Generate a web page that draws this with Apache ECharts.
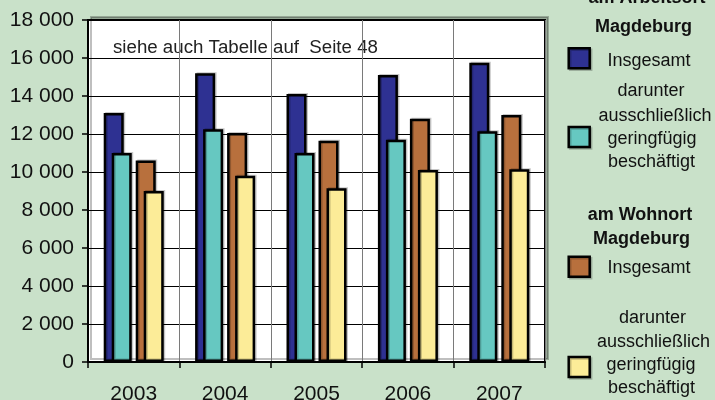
<!DOCTYPE html>
<html>
<head>
<meta charset="utf-8">
<script src="https://cdn.jsdelivr.net/npm/echarts@6/dist/echarts.min.js"></script>
<style>
  html, body { margin: 0; padding: 0; background: #c9e1c9; }
  #chart { width: 715px; height: 400px; }
</style>
</head>
<body>
<div id="chart"></div>
<script>
// Jahre
const years = ['2003', '2004', '2005', '2006', '2007']
// am Arbeitsort Magdeburg
const arbeitsortGesamt = [13100, 15200, 14100, 15100, 15750]
const arbeitsortGering = [11000, 12250, 11000, 11700, 12150]
// am Wohnort Magdeburg
const wohnortGesamt = [10600, 12050, 11650, 12800, 13000]
const wohnortGering = [9000, 9800, 9150, 10100, 10150]
// y ticks
const yMin = 0
const yMax = 18000
const yStep = 2000

const colors = {
  blue: '#2e3192',
  teal: '#66c8c1',
  brown: '#b8703d',
  yellow: '#fcec98'
}
const FONT = '"Liberation Sans", Arial, sans-serif'

function barSeries(name, data, color) {
  return {
    name: name,
    type: 'bar',
    data: data,
    barWidth: 20,
    barGap: '-60%',
    itemStyle: {
      color: color,
      borderColor: '#000',
      borderWidth: 2.5,
      shadowColor: 'rgba(0,0,0,0.22)',
      shadowOffsetX: 1.5,
      shadowOffsetY: -1
    },
    animation: false
  }
}

function label(text, x, y, bold) {
  return {
    type: 'text',
    style: {
      text: text,
      x: x,
      y: y,
      textAlign: 'center',
      textVerticalAlign: 'middle',
      font: (bold ? 'bold ' : '') + '18px ' + FONT,
      fill: '#111'
    }
  }
}

function swatch(y, color) {
  return {
    type: 'rect',
    shape: { x: 568.7, y: y + 1, width: 21, height: 20 },
    style: { fill: color, stroke: '#000', lineWidth: 2.5, shadowColor: 'rgba(0,0,0,0.22)', shadowOffsetX: 1.5, shadowOffsetY: 1.5 }
  }
}

const chart = echarts.init(document.getElementById('chart'), null, { renderer: 'canvas' })

chart.setOption({
  backgroundColor: '#c9e1c9',
  animation: false,
  grid: {
    left: 88,
    right: 170,
    top: 20,
    bottom: 38,
    outerBoundsMode: 'none',
    containLabel: false,
    show: true,
    backgroundColor: '#fff',
    borderColor: '#000',
    borderWidth: 2,
    shadowColor: 'rgba(0,0,0,0.25)',
    shadowOffsetX: 3,
    shadowOffsetY: -3
  },
  xAxis: {
    type: 'category',
    data: years,
    axisLine: { lineStyle: { color: '#000', width: 2 } },
    axisTick: { show: true, length: 6, lineStyle: { color: '#000', width: 1.5 } },
    axisLabel: { color: '#111', fontSize: 21, fontFamily: FONT, margin: 22 },
    splitLine: { show: true, lineStyle: { color: '#7a7a7a', width: 1 } }
  },
  yAxis: {
    type: 'value',
    min: yMin,
    max: yMax,
    interval: yStep,
    axisLine: { show: true, lineStyle: { color: '#000', width: 2 } },
    axisTick: { show: true, length: 6, lineStyle: { color: '#000', width: 1.5 } },
    axisLabel: {
      color: '#111',
      fontSize: 21,
      fontFamily: FONT,
      margin: 14,
      formatter: v => String(v).replace(/\B(?=(\d{3})+(?!\d))/g, ' ')
    },
    splitLine: { show: true, lineStyle: { color: '#000', width: 1 } }
  },
  series: [
    barSeries('Arbeitsort Insgesamt', arbeitsortGesamt, colors.blue),
    barSeries('Arbeitsort geringfügig', arbeitsortGering, colors.teal),
    barSeries('leer1', [], 'none'),
    barSeries('leer2', [], 'none'),
    barSeries('Wohnort Insgesamt', wohnortGesamt, colors.brown),
    barSeries('Wohnort geringfügig', wohnortGering, colors.yellow)
  ],
  graphic: [
    {
      type: 'rect',
      shape: { x: 113, y: 23, width: 313, height: 40 },
      style: { fill: '#fff' }
    },
    {
      type: 'text',
      style: {
        text: 'siehe auch Tabelle auf  Seite 48',
        x: 113,
        y: 48,
        textAlign: 'left',
        textVerticalAlign: 'middle',
        font: '18.7px ' + FONT,
        fill: '#222'
      }
    },
    label('am Arbeitsort', 647, -1.5, true),
    label('Magdeburg', 643.5, 27, true),
    swatch(47.3, colors.blue),
    label('Insgesamt', 649, 61, false),
    label('darunter', 651, 91.5, false),
    label('ausschließlich', 655, 116, false),
    label('geringfügig', 652, 139, false),
    label('beschäftigt', 651.5, 162.5, false),
    swatch(126, colors.teal),
    label('am Wohnort', 640, 215, true),
    label('Magdeburg', 641.5, 239, true),
    swatch(255.7, colors.brown),
    label('Insgesamt', 649, 268, false),
    label('darunter', 652.5, 318, false),
    label('ausschließlich', 653.5, 342.5, false),
    label('geringfügig', 651, 365, false),
    label('beschäftigt', 651.5, 388, false),
    swatch(356, colors.yellow)
  ]
})
</script>
</body>
</html>
